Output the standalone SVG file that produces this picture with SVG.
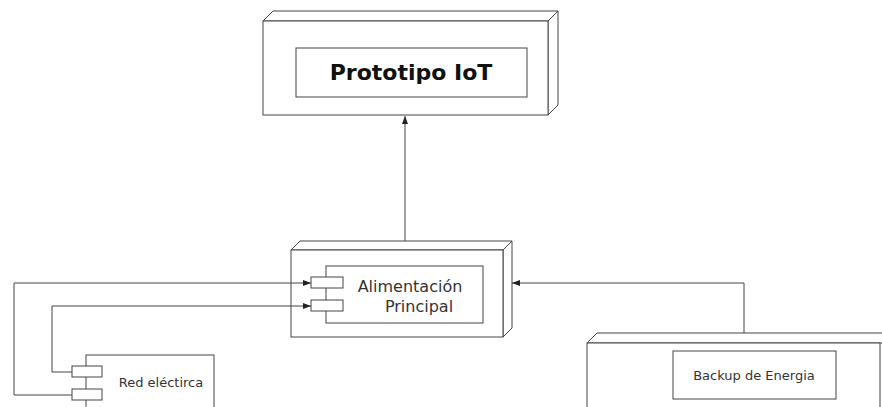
<svg xmlns="http://www.w3.org/2000/svg" width="882" height="407" viewBox="0 0 882 407">
  <style>
    .box { fill: #ffffff; stroke: #444444; stroke-width: 1; }
    .edge { fill: none; stroke: #444444; stroke-width: 1; }
    .lbl { font-family: "DejaVu Sans", Verdana, sans-serif; fill: #333333; text-anchor: middle; }
    .title { font-family: "DejaVu Sans", Verdana, sans-serif; font-weight: bold; fill: #111111; text-anchor: middle; }
  </style>
  <defs>
    <marker id="arrow" viewBox="0 0 8 6" refX="8" refY="3" markerWidth="8" markerHeight="6" markerUnits="userSpaceOnUse" orient="auto">
      <path d="M0,0 L8,3 L0,6 Z" fill="#222222"/>
    </marker>
  </defs>
  <rect width="882" height="407" fill="#ffffff"/>

  <!-- IoT prototype node -->
  <g id="prototipo">
    <polygon class="box" points="263,21 273,11 558,11 548,21"/>
    <polygon class="box" points="548,21 558,11 558,105 548,115"/>
    <rect class="box" x="263" y="21" width="285" height="94"/>
    <rect class="box" x="296" y="48" width="231" height="49"/>
    <text class="title" x="411" y="80" font-size="22">Prototipo IoT</text>
  </g>

  <!-- Main power node -->
  <g id="alimentacion">
    <polygon class="box" points="291,250 300,241 512,241 503,250"/>
    <polygon class="box" points="503,250 512,241 512,328 503,337"/>
    <rect class="box" x="291" y="250" width="212" height="87"/>
    <rect class="box" x="326" y="266" width="157" height="57"/>
    <rect class="box" x="311" y="277" width="32" height="11"/>
    <rect class="box" x="311" y="300" width="32" height="11"/>
    <text class="lbl" x="410" y="292" font-size="16">Alimentación</text>
    <text class="lbl" x="419" y="312" font-size="16">Principal</text>
  </g>

  <!-- Grid supply component -->
  <g id="red-electrica">
    <rect class="box" x="86" y="355" width="128" height="60"/>
    <rect class="box" x="72" y="366" width="30" height="11"/>
    <rect class="box" x="72" y="389" width="30" height="11"/>
    <text class="lbl" x="161" y="387" font-size="13">Red eléctirca</text>
  </g>

  <!-- Backup energy node -->
  <g id="backup">
    <polygon class="box" points="587,343 597,333 892,333 882,343"/>
    <rect class="box" x="587" y="343" width="293" height="80"/>
    <rect class="box" x="673" y="351" width="163" height="48"/>
    <text class="lbl" x="754" y="380" font-size="13">Backup de Energia</text>
  </g>

  <!-- Connectors -->
  <g id="connectors">
    <path class="edge" d="M405,241 L405,116" marker-end="url(#arrow)"/>
    <path class="edge" d="M72,395 L14,395 L14,283 L311,283" marker-end="url(#arrow)"/>
    <path class="edge" d="M72,372 L52,372 L52,306 L311,306" marker-end="url(#arrow)"/>
    <path class="edge" d="M744,333 L744,283 L512,283" marker-end="url(#arrow)"/>
  </g>
</svg>
